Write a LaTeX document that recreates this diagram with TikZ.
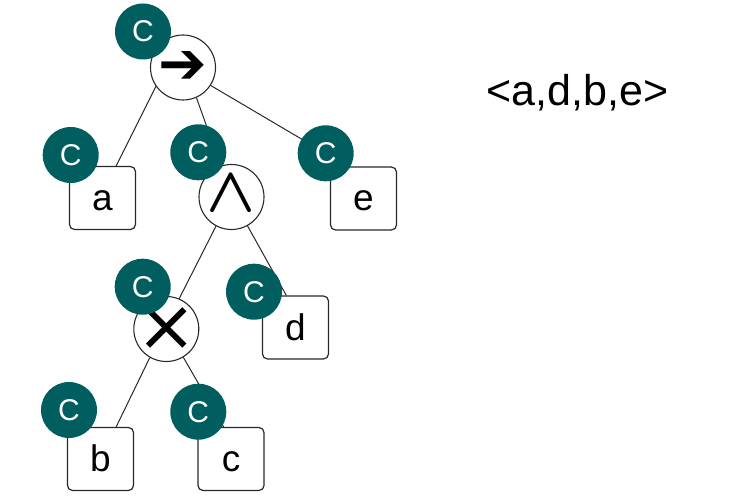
\documentclass[tikz,border=0pt]{standalone}
\usepackage{fontspec}
\setmainfont{Liberation Sans}
\newfontfamily\symfont{DejaVu Sans}
\definecolor{cteal}{RGB}{0,94,94}
\definecolor{linegray}{RGB}{40,40,40}
\begin{document}
\begin{tikzpicture}[x=1pt,y=-1pt,
  opnode/.style={circle, draw=linegray, line width=1.1pt, fill=white, minimum size=65pt, inner sep=0pt},
  opsym/.style={inner sep=0pt, outer sep=0pt},
  leaf/.style={draw=linegray, line width=1.2pt, rounded corners=5pt, minimum width=66pt, minimum height=63pt, inner sep=0pt, fill=white, font=\fontsize{37}{40}\selectfont, text height=25pt, text depth=0pt},
  cnode/.style={circle, fill=cteal, minimum size=56pt, inner sep=0pt, text=white, font=\fontsize{30}{32}\selectfont},
  edge/.style={line width=1pt, draw=linegray}]
\useasboundingbox (0,0) rectangle (745,500);
% operator nodes
\node[opnode] (op1) at (183,67.5) {};
\node[opsym, font=\symfont\fontsize{58}{58}\selectfont] (s1) at (op1.center) {➔};
\node[opnode] (op2) at (231.5,197) {};
\node[opsym] (s2) at ([yshift=3pt]op2.center) {\scalebox{6.4}{\boldmath$\wedge$}};
\node[opnode] (op3) at (166.3,329) {};
\node[opsym, font=\symfont\fontsize{72}{72}\selectfont] (s3) at (op3.center) {×};
% leaves
\node[leaf] (a) at (102.5,198) {a};
\node[leaf] (e) at (363.5,198.5) {e};
\node[leaf] (d) at (295.5,327.5) {d};
\node[leaf] (b) at (100.5,459) {b};
\node[leaf] (c) at (231,459) {c};
% label
\node[font=\fontsize{43}{46}\selectfont, anchor=base, inner sep=0pt] (seq) at (577.5,105.7) {<a,d,b,e>};
% edges
\draw[edge] (op1.215) -- (a.67);
\draw[edge] (op1.294) -- (op2.109);
\coordinate (ecorner) at (325.7,153.3);
\draw[edge] (op1.327) -- (ecorner);
\draw[edge] (op2.242) -- (op3.67);
\draw[edge] (op2.299) -- (d.106);
\draw[edge] (op3.240) -- (b.64);
\draw[edge] (op3.301) -- (c.103);
% C markers
\node[cnode] (C1) at (143,31.5) {C};
\node[cnode] (Ca) at (70.7,155) {C};
\node[cnode] (C2) at (198.3,152.3) {C};
\node[cnode] (Ce) at (ecorner) {C};
\node[cnode] (C3) at (142.7,286.7) {C};
\node[cnode] (Cd) at (254,291.7) {C};
\node[cnode] (Cb) at (69,410) {C};
\node[cnode] (Cc) at (198.3,411.7) {C};
\end{tikzpicture}
\end{document}
